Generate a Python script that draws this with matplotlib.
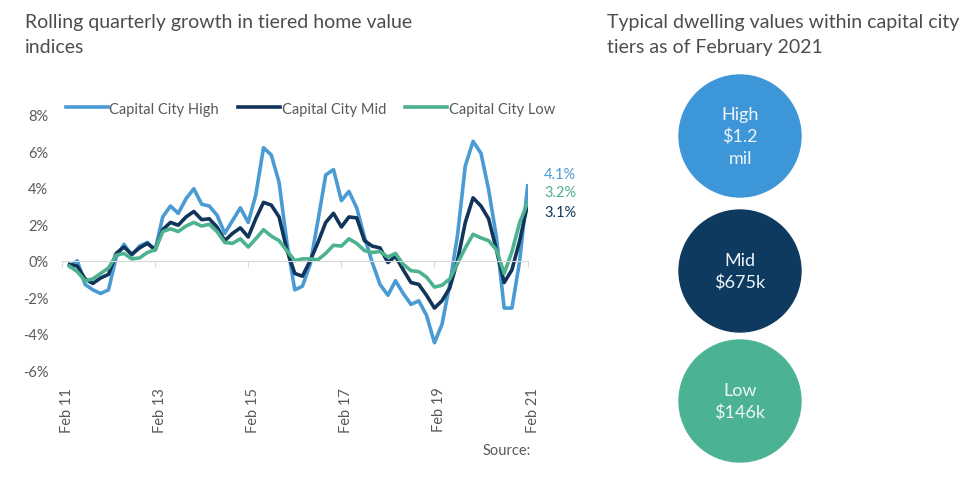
import numpy as np
import matplotlib
matplotlib.use('Agg')
import matplotlib.pyplot as plt
import matplotlib.transforms as mtransforms
import pandas as pd
from matplotlib.patches import Circle

plt.rcParams['font.family'] = ['Lato', 'DejaVu Sans']

# данные: квартальный рост, %, каждые 2 месяца с апреля 2011 по февраль 2021
dates = pd.date_range('2011-04-01', '2021-02-01', freq='2MS')
high = [-0.3, 0.0, -1.3, -1.6, -1.8, -1.6, 0.2, 0.9, 0.3, 0.8, 1.0, 0.6,
        2.4, 3.0, 2.6, 3.4, 3.95, 3.1, 3.0, 2.5, 1.5, 2.2, 2.9, 2.1,
        3.6, 6.2, 5.8, 4.3, 1.0, -1.6, -1.4, -0.2, 2.2, 4.7, 5.0, 3.3,
        3.8, 2.9, 1.3, -0.1, -1.3, -1.9, -1.1, -1.8, -2.4, -2.2, -3.0, -4.5,
        -3.5, -1.3, 1.4, 5.2, 6.55, 5.9, 3.9, 1.3, -2.6, -2.6, 0.0, 4.1]
mid = [-0.2, -0.3, -1.0, -1.25, -0.95, -0.75, 0.4, 0.75, 0.35, 0.7, 0.95, 0.6,
       1.7, 2.1, 1.95, 2.4, 2.7, 2.25, 2.3, 1.85, 1.1, 1.5, 1.8, 1.3,
       2.3, 3.2, 3.05, 2.4, 0.6, -0.7, -0.85, 0.0, 1.0, 2.1, 2.6, 1.85,
       2.4, 2.35, 1.1, 0.8, 0.7, -0.1, 0.25, -0.5, -1.2, -1.3, -1.9, -2.6,
       -2.2, -1.5, 0.0, 2.1, 3.45, 3.0, 2.3, 0.6, -1.2, -0.5, 1.1, 3.1]
low = [-0.3, -0.6, -1.1, -1.0, -0.7, -0.4, 0.3, 0.4, 0.1, 0.15, 0.45, 0.6,
       1.6, 1.75, 1.6, 1.9, 2.1, 1.9, 2.0, 1.6, 1.0, 0.95, 1.2, 0.75,
       1.2, 1.7, 1.35, 1.1, 0.55, 0.0, 0.1, 0.1, 0.05, 0.4, 0.85, 0.8,
       1.2, 0.95, 0.55, 0.45, 0.5, 0.2, 0.4, -0.2, -0.55, -0.6, -0.9, -1.45,
       -1.35, -1.0, -0.15, 0.7, 1.45, 1.25, 1.1, 0.6, -0.7, 0.5, 2.1, 3.2]

names = ['Capital City High', 'Capital City Mid', 'Capital City Low']
colors = ['#4a9bd4', '#11355a', '#4db28f']
end_labels = ['4.1%', '3.2%', '3.1%']
tick_years = [2011, 2013, 2015, 2017, 2019, 2021]

tiers = ['High', 'Mid', 'Low']
tier_values = ['$1.2\nmil', '$675k', '$146k']
circle_colors = ['#3d96d8', '#0e3a5f', '#4bb394']

grey = '#595959'

fig = plt.figure(figsize=(9.6, 4.85), dpi=100)
fig.patch.set_facecolor('white')

# линейный график
ax = fig.add_axes([0.0646, 0.235, 0.485, 0.526])
for vals, name, c in zip([high, mid, low], names, colors):
    ax.plot(dates, vals, color=c, lw=2.6, label=name, solid_joinstyle='round')

ax.set_xlim(pd.Timestamp('2011-02-01'), pd.Timestamp('2021-02-01'))
ax.set_ylim(-6, 8)
ax.set_yticks(np.arange(-6, 9, 2))
ax.set_yticklabels([f'{v}%' for v in range(-6, 9, 2)])
ticks = [pd.Timestamp(f'{y}-02-01') for y in tick_years]
ax.set_xticks(ticks)
ax.set_xticklabels([])
for s in ['top', 'right', 'left']:
    ax.spines[s].set_visible(False)
ax.spines['bottom'].set_position(('data', 0))
ax.spines['bottom'].set_color('#d9d9d9')
ax.tick_params(axis='x', direction='out', length=4, color='#d9d9d9')
ax.tick_params(axis='y', length=0, labelsize=10.5, labelcolor=grey, pad=10)

sec = ax.secondary_xaxis('bottom')
sec.set_xticks(ticks)
sec.set_xticklabels([f'Feb {y % 100}' for y in tick_years], rotation=90,
                    fontsize=10.5, color=grey)
sec.tick_params(length=0, pad=12)
sec.spines['bottom'].set_visible(False)
shift = mtransforms.ScaledTranslation(5 / 100, 0, fig.dpi_scale_trans)
for lab in sec.get_xticklabels():
    lab.set_transform(lab.get_transform() + shift)

ax.legend(loc='center left', bbox_to_anchor=(-0.005, 1.025), ncol=3,
          frameon=False, fontsize=10.5, handlelength=2.9, handletextpad=0.1,
          columnspacing=1.3, labelcolor=grey, borderaxespad=0)

# подписи последних значений
label_y = [175, 193, 213]
label_colors = [colors[0], colors[2], colors[1]]
for txt, yy, c in zip(end_labels, label_y, label_colors):
    fig.text(544 / 960, 1 - yy / 485, txt, color=c, fontsize=10.5, va='center')

fig.text(25 / 960, 1 - 14 / 485, 'Rolling quarterly growth in tiered home value\nindices',
         fontsize=14, color='#4d4d4d', va='top', ha='left', linespacing=1.6)
fig.text(607 / 960, 1 - 14 / 485, 'Typical dwelling values within capital city\ntiers as of February 2021',
         fontsize=14, color='#4d4d4d', va='top', ha='left', linespacing=1.6)
fig.text(483 / 960, 1 - 451 / 485, 'Source:', fontsize=10.5, color=grey, va='center')

# кружки справа
cax = fig.add_axes([0, 0, 1, 1])
cax.set_xlim(0, 960)
cax.set_ylim(485, 0)
cax.axis('off')
centers = [137, 272, 402]
for t, v, c, cy in zip(tiers, tier_values, circle_colors, centers):
    cax.add_patch(Circle((740, cy), 61, color=c))
    cax.text(740, cy, t + '\n' + v, ha='center', va='center', color='#eef4f8',
             fontsize=13, linespacing=1.45)

fig.savefig('out.png', dpi=100)
